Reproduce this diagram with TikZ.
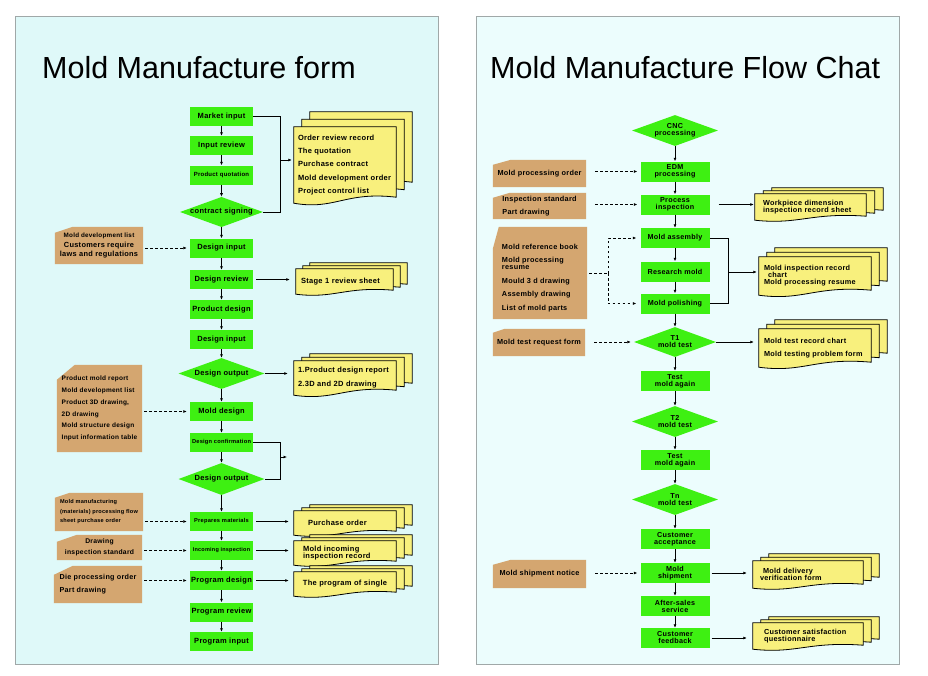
\documentclass[tikz,border=0pt]{standalone}
\usepackage{fontspec}
\setmainfont{Liberation Sans}
\newfontfamily\lblfont[LetterSpace=4]{Liberation Sans}
\usetikzlibrary{shapes.geometric,arrows.meta,calc}

\definecolor{flowgreen}{RGB}{62,240,18}
\definecolor{notetan}{RGB}{212,166,112}
\definecolor{paperyellow}{RGB}{248,240,125}
\definecolor{panelleft}{RGB}{223,249,249}
\definecolor{panelright}{RGB}{236,253,253}
\definecolor{panelline}{RGB}{160,168,168}

\pgfdeclarelayer{panel}
\pgfdeclarelayer{paper}
\pgfsetlayers{panel,paper,main}

\newcommand{\lbl}[2]{\lblfont\bfseries\fontsize{#1}{#2}\selectfont}
% stack of three sheets behind a named text node: node, dx, dy, wave
\newcommand{\docstack}[4]{%
  \begin{pgfonlayer}{paper}
    \foreach \k in {2,1,0}
      \path[docpaper] let \p1=(#1.north west), \p2=(#1.south east) in
        ({\x1+\k*#2},{\y1+\k*#3}) -- ({\x2+\k*#2},{\y1+\k*#3})
        -- ({\x2+\k*#2},{\y2+\k*#3+#4})
        .. controls ({\x1+0.5*(\x2-\x1)+\k*#2},{\y2+\k*#3+2*#4})
        and ({\x1+0.4*(\x2-\x1)+\k*#2},{\y2+\k*#3-1.2*#4})
        .. ({\x1+\k*#2},{\y2+\k*#3}) -- cycle;
  \end{pgfonlayer}}
% tan card with cut corner behind a named text node: node, cut x, cut y, extra top
\newcommand{\notecut}[4]{%
  \begin{pgfonlayer}{paper}
    \path[notefill] let \p1=(#1.north west), \p2=(#1.south east) in
      ({\x1+#2},{\y1+#4}) -- (\x2,{\y1+#4}) -- (\x2,\y2) -- (\x1,\y2)
      -- (\x1,{\y1+#4-#3}) -- cycle;
  \end{pgfonlayer}}

\tikzset{
  heading/.style={inner sep=0pt, font=\fontsize{30.5}{36}\selectfont},
  stepbox/.style={rectangle, fill=flowgreen, minimum width=63pt, minimum height=19pt,
    inner sep=0pt, align=center, font=\lbl{7.5}{8}},
  rstepbox/.style={stepbox, minimum width=69pt, minimum height=20pt, font=\lbl{7.2}{7}},
  decide/.style={diamond, fill=flowgreen, inner sep=0pt, aspect=2.7, align=center,
    font=\lbl{7.5}{8}},
  notecard/.style={rectangle, inner sep=0pt, align=center, font=\lbl{7.3}{9}},
  notefill/.style={fill=notetan},
  docfront/.style={rectangle, inner ysep=0pt, align=left, font=\lbl{7.5}{9}},
  docpaper/.style={fill=paperyellow, draw=black, line width=0.8pt},
  flow/.style={-{Latex[length=3.5pt,width=3pt]}, line width=0.7pt},
  dashflow/.style={flow, dash pattern=on 2.5pt off 2.5pt},
  dashlink/.style={line width=0.7pt, dash pattern=on 2.5pt off 2.5pt},
  bracketline/.style={line width=0.7pt},
  panelbox/.style={draw=panelline, line width=0.8pt}
}

\begin{document}
\begin{tikzpicture}[x=1pt,y=-1pt]
\useasboundingbox (0,0) rectangle (928,675);
\begin{pgfonlayer}{panel}
  \fill[white] (0,0) rectangle (928,675);
  \draw[panelbox, fill=panelleft] (15,16) rectangle (438,664);
  \draw[panelbox, fill=panelright] (476,16) rectangle (899,664);
\end{pgfonlayer}

\node[heading, anchor=base west] (ltitle) at (42,78) {Mold Manufacture form};
\node[heading, anchor=base west] (rtitle) at (490,78) {Mold Manufacture Flow Chat};

% left column
\node[stepbox] (mi) at (221.5,116.5) {Market input};
\node[stepbox] (ir) at (221.5,145.5) {Input review};
\node[stepbox, font=\lbl{6}{7}] (pq) at (221.5,175) {Product quotation};
\node[decide, minimum width=83pt, minimum height=30pt] (cs) at (221.5,212) {contract signing};
\node[stepbox] (di) at (221.5,248) {Design input};
\node[stepbox] (dr) at (221.5,279.5) {Design review};
\node[stepbox] (pd) at (221.5,309.5) {Product design};
\node[stepbox] (di2) at (221.5,339.5) {Design input};
\node[decide, minimum width=86pt, minimum height=31pt] (do1) at (221.5,373.5) {Design output};
\node[stepbox] (md) at (221.5,411.5) {Mold design};
\node[stepbox, font=\lbl{5.7}{7}] (dc) at (221.5,442.5) {Design confirmation};
\node[decide, minimum width=86pt, minimum height=32pt] (do2) at (221.5,479) {Design output};
\node[stepbox, font=\lbl{5.7}{7}] (pm) at (221.5,521.5) {Prepares materials};
\node[stepbox, font=\lbl{5.5}{7}] (ii) at (221.5,550.5) {Incoming inspection};
\node[stepbox] (pg) at (221.5,580.5) {Program design};
\node[stepbox] (pr) at (221.5,612) {Program review};
\node[stepbox] (pi) at (221.5,641.5) {Program input};

\foreach \a/\b in {mi/ir,ir/pq,pq/cs,cs/di,di/dr,dr/pd,pd/di2,di2/do1,do1/md,
    md/dc,dc/do2,do2/pm,pm/ii,ii/pg,pg/pr,pr/pi}
  \draw[flow] (\a) -- (\b);

% left notes
\node[notecard, minimum width=88pt, minimum height=37pt, font=\lbl{7.4}{9.5}] (n1) at (99,245.5)
  {{\lbl{6.3}{9.5}Mold development list}\\Customers require\\laws and regulations};
\node[notecard, minimum width=85pt, minimum height=87pt, align=left, font=\lbl{6.5}{11.8}] (n2) at (99.5,408.5)
  {Product mold report\\Mold development list\\Product 3D drawing,\\2D drawing\\Mold structure design\\Input information table};
\node[notecard, minimum width=88pt, minimum height=38pt, align=left, font=\lbl{5.6}{9.5}] (n3) at (99,512)
  {Mold manufacturing\\(materials) processing flow\\sheet purchase order};
\node[notecard, minimum width=85pt, minimum height=25pt, font=\lbl{6.8}{11}] (n4) at (99.5,547.5)
  {Drawing\\inspection standard};
\node[notecard, minimum width=88pt, minimum height=37pt, align=left, font=\lbl{7.2}{13}] (n5) at (98,584.5)
  {Die processing order\\Part drawing};

\notecut{n1}{18pt}{6pt}{0pt}
\notecut{n2}{18pt}{15pt}{0pt}
\notecut{n3}{15pt}{5pt}{0pt}
\notecut{n4}{20pt}{7pt}{0pt}
\notecut{n5}{19pt}{9pt}{0pt}

\foreach \n/\b in {n1/di,n2/md,n3/pm,n4/ii,n5/pg}
  \draw[dashflow, shorten <=2pt, shorten >=3pt] (\b.west -| \n.east) -- (\b.west);

% left documents
\node[docfront, text width=94pt, inner xsep=4pt, minimum height=76pt, font=\lbl{7.5}{13.3}] (doc1) at (345,165)
  {Order review record\\The quotation\\Purchase contract\\Mold development order\\Project control list};
\node[docfront, text width=87pt, inner xsep=5pt, minimum height=25pt] (doc2) at (344.5,281.5) {Stage 1 review sheet};
\node[docfront, text width=94pt, inner xsep=4pt, minimum height=34pt, font=\lbl{7.5}{14}] (doc3) at (345,378)
  {1.Product design report\\2.3D and 2D drawing};
\node[docfront, text width=92pt, inner xsep=5pt, minimum height=24pt] (doc4) at (345,523) {\hspace*{9pt}Purchase order};
\node[docfront, text width=84pt, inner xsep=9pt, minimum height=24pt, font=\lbl{7.5}{7.5}] (doc5) at (345,553)
  {Mold incoming\\inspection record};
\node[docfront, text width=92pt, inner xsep=5pt, minimum height=24pt, align=center] (doc6) at (345,584) {The program of single};

\docstack{doc1}{8pt}{7.5pt}{6pt}
\docstack{doc2}{7pt}{3pt}{4pt}
\docstack{doc3}{8pt}{3.5pt}{5pt}
\docstack{doc4}{8pt}{3pt}{4pt}
\docstack{doc5}{8pt}{3pt}{4pt}
\docstack{doc6}{8pt}{3pt}{4pt}

\draw[bracketline] (mi.east) -- ++(27,0) |- (cs.east);
\coordinate (brk1) at (280,160);
\draw[flow, shorten >=2pt] (brk1) -- (brk1 -| doc1.west);
\draw[flow, shorten <=3pt, shorten >=6pt] (dr.east) -- (dr.east -| doc2.west);
\draw[flow, shorten >=6pt] (do1.east) -- (do1.east -| doc3.west);
\draw[bracketline] (dc.east) -- ++(27,0) |- (do2.east);
\coordinate (brk2) at (280,457);
\coordinate (brk2tip) at (287,457);
\draw[flow] (brk2) -- (brk2tip);
\draw[flow, shorten <=3pt, shorten >=5pt] (pm.east) -- (pm.east -| doc4.west);
\draw[flow, shorten <=3pt, shorten >=5pt] (ii.east) -- (ii.east -| doc5.west);
\draw[flow, shorten <=3pt, shorten >=5pt] (pg.east) -- (pg.east -| doc6.west);

% right column
\node[decide, minimum width=86pt, minimum height=31pt, font=\lbl{7.2}{7}] (cnc) at (675,130.5) {CNC\\processing};
\node[rstepbox] (edm) at (675,171.5) {EDM\\processing};
\node[rstepbox] (pin) at (675,204.5) {Process\\inspection};
\node[rstepbox] (ma) at (675,238) {Mold assembly};
\node[rstepbox] (rm) at (675,271.5) {Research mold};
\node[rstepbox] (mp) at (675,303.5) {Mold polishing};
\node[decide, minimum width=82pt, minimum height=30pt, font=\lbl{7.2}{7}] (t1) at (675,342) {T1\\mold test};
\node[rstepbox] (ta1) at (675,381) {Test\\mold again};
\node[decide, minimum width=86pt, minimum height=31pt, font=\lbl{7.2}{7}] (t2) at (675,421.5) {T2\\mold test};
\node[rstepbox] (ta2) at (675,460) {Test\\mold again};
\node[decide, minimum width=86pt, minimum height=31pt, font=\lbl{7.2}{7}] (tn) at (675,499.5) {Tn\\mold test};
\node[rstepbox] (ca) at (675,539) {Customer\\acceptance};
\node[rstepbox] (ms) at (675,573) {Mold\\shipment};
\node[rstepbox] (aft) at (675,606) {After-sales\\service};
\node[rstepbox] (cf) at (675,638) {Customer\\feedback};

\foreach \a/\b in {cnc/edm,edm/pin,pin/ma,ma/rm,rm/mp,mp/t1,t1/ta1,ta1/t2,t2/ta2,
    ta2/tn,tn/ca,ca/ms,ms/aft,aft/cf}
  \draw[flow] (\a) -- (\b);

% right notes
\node[notecard, minimum width=93pt, minimum height=27pt] (rn1) at (539.5,173.5) {Mold processing order};
\node[notecard, minimum width=93pt, minimum height=26pt, align=left, font=\lbl{7.3}{13}] (rn2) at (539.5,206)
  {Inspection standard\\Part drawing};
\node[notecard, minimum width=94pt, minimum height=82pt, align=left, font=\lbl{7.3}{13.8}] (rn3) at (540,278)
  {Mold reference book\\Mold processing\\[-7.5pt]resume\\Mould 3 d drawing\\Assembly drawing\\List of mold parts};
\node[notecard, minimum width=92pt, minimum height=27pt] (rn4) at (539,342.5) {Mold test request form};
\node[notecard, minimum width=93pt, minimum height=28pt] (rn5) at (539.5,574) {Mold shipment notice};

\notecut{rn1}{18pt}{5pt}{0pt}
\notecut{rn2}{17pt}{5pt}{0pt}
\notecut{rn3}{6pt}{22pt}{10pt}
\notecut{rn4}{12pt}{4pt}{0pt}
\notecut{rn5}{18pt}{5pt}{0pt}

\foreach \n/\b in {rn1/edm,rn2/pin,rn4/t1,rn5/ms}
  \draw[dashflow, shorten <=9pt, shorten >=3pt] (\b.west -| \n.east) -- (\b.west);
\coordinate (fork) at (608,273);
\draw[dashlink, shorten <=2pt] (fork -| rn3.east) -- (fork);
\draw[dashflow, shorten >=4pt] (fork) |- (ma.west);
\draw[dashflow, shorten >=4pt] (fork) |- (mp.west);

% right documents
\node[docfront, text width=95pt, inner xsep=8pt, minimum height=26pt, font=\lbl{7.3}{7.2}] (rdoc1) at (810.5,207)
  {Workpiece dimension\\inspection record sheet};
\node[docfront, text width=102pt, inner xsep=5pt, minimum height=38pt, font=\lbl{7.3}{7}] (rdoc2) at (815,276)
  {Mold inspection record\\\hspace*{4pt}chart\\Mold processing resume};
\node[docfront, text width=102pt, inner xsep=5pt, minimum height=38pt, font=\lbl{7.3}{13.5}] (rdoc3) at (815,348)
  {Mold test record chart\\Mold testing problem form};
\node[docfront, text width=96pt, inner xsep=7pt, minimum height=27pt, font=\lbl{7.3}{7}] (rdoc4) at (808,574.5)
  {\hspace*{3pt}Mold delivery\\verification form};
\node[docfront, text width=88pt, inner xsep=11pt, minimum height=26pt, font=\lbl{7.3}{7}] (rdoc5) at (808,636)
  {Customer satisfaction\\questionnaire};

\docstack{rdoc1}{8.5pt}{3pt}{4pt}
\docstack{rdoc2}{8pt}{4.5pt}{5pt}
\docstack{rdoc3}{8pt}{4.5pt}{5pt}
\docstack{rdoc4}{8pt}{3.5pt}{4pt}
\docstack{rdoc5}{8pt}{3pt}{4pt}

\draw[bracketline] (ma.east) -- ++(19,0) |- (mp.east);
\coordinate (brk3) at (728,272);
\draw[flow, shorten >=2pt] (brk3) -- (brk3 -| rdoc2.west);
\draw[flow, shorten <=9pt, shorten >=1pt] (pin.east) -- (pin.east -| rdoc1.west);
\draw[flow, shorten >=5pt] (t1.east) -- (t1.east -| rdoc3.west);
\draw[flow, shorten <=2pt, shorten >=6pt] (ms.east) -- (ms.east -| rdoc4.west);
\draw[flow, shorten <=2pt, shorten >=6pt] (cf.east) -- (cf.east -| rdoc5.west);
\end{tikzpicture}
\end{document}
